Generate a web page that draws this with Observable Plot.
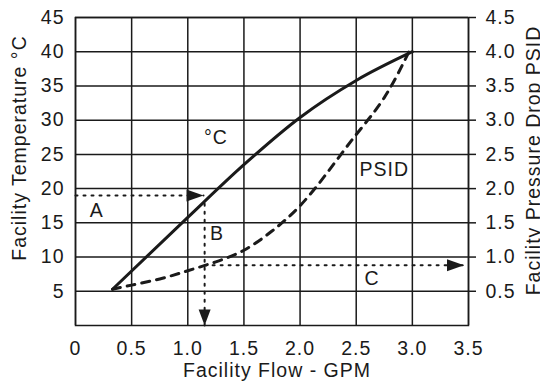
<!DOCTYPE html>
<html><head><meta charset="utf-8">
<script src="https://cdn.jsdelivr.net/npm/d3@7"></script>
<script src="https://cdn.jsdelivr.net/npm/@observablehq/plot@0.6"></script>
<style>
body{margin:0;background:#fff;}
#chart svg{display:block;}
#chart svg text{letter-spacing:1px;}
#chart g[aria-label="ytitle"] text{letter-spacing:1px;}
#chart g[aria-label="y2title"] text{letter-spacing:1.5px;}
#chart g[aria-label="xtitle"] text{letter-spacing:0.8px;}
</style></head><body><div id="chart"></div>
<script>
// axis ticks
const flowTicks = [0, 0.5, 1.0, 1.5, 2.0, 2.5, 3.0, 3.5];
const tempTicks = [5, 10, 15, 20, 25, 30, 35, 40, 45];
const psidTicks = [0.5, 1.0, 1.5, 2.0, 2.5, 3.0, 3.5, 4.0, 4.5];

// °C curve (solid, left axis)
const tempFlow  = [0.33, 1.0, 1.5, 2.0, 2.5, 3.0];
const tempValue = [5.3, 15.8, 23.5, 30.4, 35.8, 40.0];

// PSID curve (dashed, right axis)
const psidFlow  = [0.33, 0.5, 0.75, 1.0, 1.25, 1.5, 1.75, 2.0, 2.25, 2.5, 2.75, 2.97];
const psidValue = [0.53, 0.59, 0.68, 0.80, 0.93, 1.10, 1.38, 1.75, 2.25, 2.79, 3.33, 4.0];

// guide lines (dotted arrows): A -> right, B -> down, C -> right
const guideName  = ["A", "A", "B", "B", "C", "C"];
const guideFlow  = [0, 1.14, 1.15, 1.15, 1.15, 3.46];
const guideTemp  = [19, 19, 17.8, 0, 8.8, 8.8];
const arrowDir   = ["right", "down", "right"];

// annotations
const labelText = ["A", "B", "C", "°C", "PSID"];
const labelFlow = [0.19, 1.26, 2.64, 1.25, 2.75];
const labelTemp = [16.8, 13.4, 6.9, 27.5, 22.8];

const PSID_TO_TEMP = 10; // right axis 0–4.5 spans left axis 0–45

const tempData = tempFlow.map((f, i) => ({flow: f, temp: tempValue[i]}));
const psidData = psidFlow.map((f, i) => ({flow: f, temp: psidValue[i] * PSID_TO_TEMP}));
const guideData = guideName.map((n, i) => ({name: n, flow: guideFlow[i], temp: guideTemp[i]}));
const tips = [1, 3, 5].map((i, k) => ({flow: guideFlow[i], temp: guideTemp[i], dir: arrowDir[k]}));
const labels = labelText.map((t, i) => ({text: t, flow: labelFlow[i], temp: labelTemp[i]}));

const arrowRight = {draw(c){c.moveTo(0,0);c.lineTo(-17,-6);c.lineTo(-17,6);c.closePath();}};
const arrowDown  = {draw(c){c.moveTo(0,0);c.lineTo(-6,-16);c.lineTo(6,-16);c.closePath();}};

const ink = "#1a1a1a";
const font = "'Liberation Sans', Arial, sans-serif";

const chart = Plot.plot({
  width: 540, height: 383,
  marginLeft: 75, marginRight: 72, marginTop: 17, marginBottom: 58,
  x: {domain: [0, 3.5]},
  y: {domain: [0, 45]},
  style: {fontFamily: font, fontSize: "19.5px", background: "white", color: ink},
  marks: [
    Plot.gridX(flowTicks, {stroke: ink, strokeOpacity: 1, strokeWidth: 1.5}),
    Plot.gridY(tempTicks, {stroke: ink, strokeOpacity: 1, strokeWidth: 1.5}),
    Plot.frame({stroke: ink, strokeWidth: 1.5}),
    Plot.axisX(flowTicks, {tickSize: 0, tickPadding: 16, fontSize: 19.5,
      tickFormat: d => d === 0 ? "0" : d.toFixed(1), label: null}),
    Plot.axisY(tempTicks, {anchor: "left", tickSize: 0, tickPadding: 11, fontSize: 19.5, label: null}),
    Plot.axisY(psidTicks.map(p => p * PSID_TO_TEMP), {anchor: "right", tickSize: 7, tickPadding: 10,
      fontSize: 19.5, stroke: ink, strokeWidth: 1.5,
      tickFormat: t => (t / PSID_TO_TEMP).toFixed(1), label: null}),
    Plot.line(guideData, {x: "flow", y: "temp", z: "name", stroke: ink, strokeWidth: 2,
      strokeDasharray: "2,6"}),
    Plot.dot(tips, {x: "flow", y: "temp", fill: ink, stroke: "none", r: 5,
      symbol: d => d.dir === "down" ? arrowDown : arrowRight}),
    Plot.line(psidData, {x: "flow", y: "temp", curve: "natural", stroke: ink, strokeWidth: 3,
      strokeDasharray: "8,7"}),
    Plot.line(tempData, {x: "flow", y: "temp", curve: "monotone-x", stroke: ink, strokeWidth: 3}),
    Plot.text(labels, {x: "flow", y: "temp", text: "text", fontSize: 19.5, fill: ink}),
    Plot.text(["Facility Flow - GPM"], {frameAnchor: "bottom", textAnchor: "middle", lineAnchor: "middle",
      dy: 45, dx: 5, fontSize: 19.5, fill: ink, ariaLabel: "xtitle"}),
    Plot.text(["Facility Temperature °C"], {frameAnchor: "left", textAnchor: "middle", lineAnchor: "middle",
      rotate: -90, dx: -56, dy: -23.5, fontSize: 19.5, fill: ink, ariaLabel: "ytitle"}),
    Plot.text(["Facility Pressure Drop PSID"], {frameAnchor: "right", textAnchor: "middle", lineAnchor: "middle",
      rotate: -90, dx: 65, dy: -11, fontSize: 19.5, fill: ink, ariaLabel: "y2title"})
  ]
});
document.getElementById("chart").appendChild(chart);
</script>
</body></html>
